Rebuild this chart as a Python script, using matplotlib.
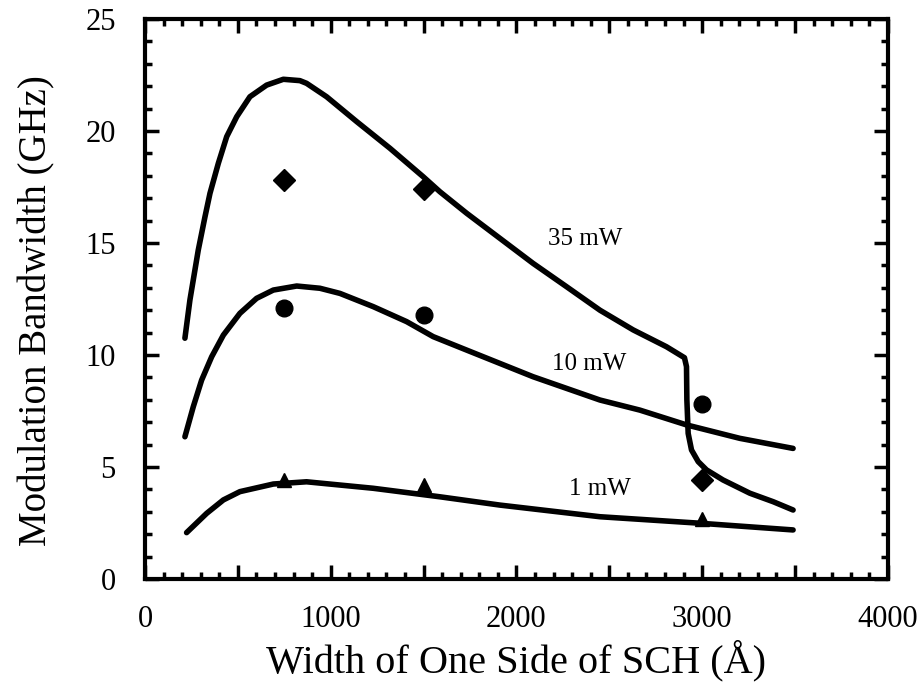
import numpy as np
import matplotlib
matplotlib.use('Agg')
import matplotlib.pyplot as plt
from matplotlib.ticker import MultipleLocator

plt.rcParams['font.family'] = ['Liberation Serif', 'DejaVu Serif']

# curves (SCH width in Angstrom, bandwidth in GHz)
x_35 = [215, 242, 287, 323, 350, 395, 440, 494, 565, 655, 745, 834, 870, 978, 1140,
        1319, 1498, 1588, 1732, 1911, 2090, 2270, 2450, 2629, 2808, 2905,
        2916, 2918, 2925, 2943, 2979, 3024, 3113, 3257, 3383, 3490]
y_35 = [10.75, 12.46, 14.69, 16.17, 17.22, 18.56, 19.75, 20.64, 21.53, 22.05, 22.31, 22.25,
        22.13, 21.53, 20.42, 19.23, 17.96, 17.29, 16.33, 15.21, 14.09, 13.05, 12.0, 11.12,
        10.37, 9.88, 9.48, 8.0, 6.5, 5.76, 5.24, 4.87, 4.42, 3.83, 3.45, 3.08]

x_10 = [215, 260, 305, 359, 422, 511, 601, 691, 817, 942, 1050, 1229, 1409, 1552, 1732,
        2090, 2450, 2665, 2916, 3203, 3490]
y_10 = [6.35, 7.69, 8.88, 9.92, 10.89, 11.86, 12.53, 12.9, 13.08, 12.98, 12.75, 12.16,
        11.49, 10.82, 10.22, 9.03, 7.99, 7.54, 6.88, 6.28, 5.83]

x_1 = [224, 332, 422, 511, 691, 870, 1229, 1588, 1911, 2450, 2988, 3490]
y_1 = [2.07, 2.93, 3.53, 3.9, 4.24, 4.34, 4.05, 3.67, 3.30, 2.78, 2.49, 2.19]

# measured points
x_meas = [750, 1500, 3000]
meas_35 = [17.8, 17.4, 4.4]
meas_10 = [12.1, 11.8, 7.8]
meas_1 = [4.4, 4.2, 2.7]

labels = ['35 mW', '10 mW', '1 mW']
label_pos = [(2370, 15.2), (2390, 9.6), (2450, 4.0)]

x_ticks = [0, 500, 1000, 1500, 2000, 2500, 3000, 3500, 4000]
x_tick_labels = ['0', '', '1000', '', '2000', '', '3000', '', '4000']
y_ticks = [0, 5, 10, 15, 20, 25]

fig = plt.figure(figsize=(9.2, 6.97), dpi=100)
ax = fig.add_axes([0.1576, 0.1693, 0.8074, 0.8034])

for xs, ys in [(x_35, y_35), (x_10, y_10), (x_1, y_1)]:
    ax.plot(xs, ys, color='black', lw=4, solid_capstyle='round', solid_joinstyle='round')

ax.plot(x_meas, meas_35, 'D', color='black', ms=11)
ax.plot(x_meas, meas_10, 'o', color='black', ms=12)
ax.plot(x_meas, meas_1, '^', color='black', ms=10)

for lab, (lx, ly) in zip(labels, label_pos):
    ax.text(lx, ly, lab, fontsize=18, ha='center', va='center')

ax.set_xlim(0, 4000)
ax.set_ylim(0, 25)
ax.set_xticks(x_ticks, x_tick_labels)
ax.xaxis.set_minor_locator(MultipleLocator(100))
ax.set_yticks(y_ticks)
ax.yaxis.set_minor_locator(MultipleLocator(1))

ax.tick_params(which='both', direction='in', top=True, right=True, width=2.5)
ax.tick_params(which='major', length=10, labelsize=22)
ax.tick_params(which='minor', length=5)
ax.tick_params(axis='x', which='major', pad=19)
ax.tick_params(axis='y', which='major', pad=21)
for s in ax.spines.values():
    s.set_linewidth(3)

ax.set_xlabel('Width of One Side of SCH (Å)', fontsize=29, labelpad=4)
ax.set_ylabel('Modulation Bandwidth (GHz)', fontsize=28)
ax.yaxis.set_label_coords(-0.12, 0.48)

fig.savefig('out.png', dpi=100)
